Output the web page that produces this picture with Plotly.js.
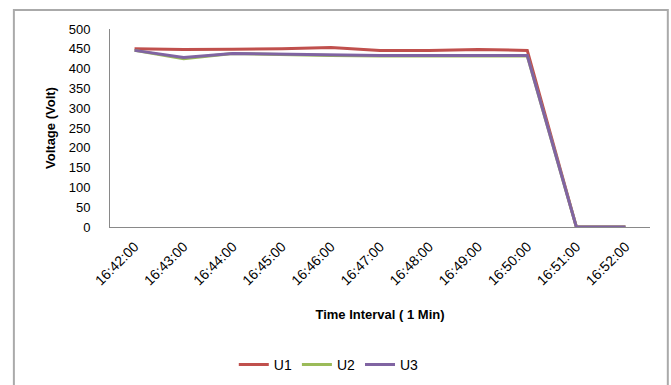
<!DOCTYPE html>
<html>
<head>
<meta charset="utf-8">
<script src="https://cdn.plot.ly/plotly-3.0.1.min.js"></script>
<style>
  html, body { margin: 0; padding: 0; background: #fff; }
  #chart { width: 671px; height: 385px; }
</style>
</head>
<body>
<div id="chart"></div>
<script>
// Sampling times (one-minute interval)
const times = ["16:42:00", "16:43:00", "16:44:00", "16:45:00", "16:46:00", "16:47:00",
               "16:48:00", "16:49:00", "16:50:00", "16:51:00", "16:52:00"];

// Phase voltages (Volt)
const u1 = [450, 448, 449, 450, 453, 446, 446, 448, 446, 0, 0];
const u2 = [446, 425, 438, 435, 433, 432, 432, 432, 432, 0, 0];
const u3 = [446, 428, 438, 436, 435, 433, 433, 433, 433, 0, 0];

const yTicks = [0, 50, 100, 150, 200, 250, 300, 350, 400, 450, 500];

const series = [
  { name: "U1", y: u1, color: "#C0504D" },
  { name: "U2", y: u2, color: "#9BBB59" },
  { name: "U3", y: u3, color: "#8064A2" }
];

const traces = series.map(s => ({
  type: "scatter",
  mode: "lines",
  name: s.name,
  x: times,
  y: s.y,
  line: { color: s.color, width: 3 }
}));

const fam = "Liberation Sans, Arial, sans-serif";

const layout = {
  width: 671,
  height: 385,
  margin: { l: 110, r: 21, t: 29, b: 158, autoexpand: false },
  paper_bgcolor: "#fff",
  plot_bgcolor: "#fff",
  font: { family: fam, size: 13, color: "#000" },
  showlegend: true,
  legend: {
    orientation: "h",
    xref: "container",
    x: 0.49, xanchor: "center",
    yref: "container",
    y: 0.052, yanchor: "middle",
    font: { family: fam, size: 14, color: "#000" },
    tracegroupgap: 0
  },
  xaxis: {
    type: "category",
    range: [-0.5, 10.5],
    automargin: false,
    tickangle: -45,
    showgrid: false,
    zeroline: false,
    showline: true,
    linecolor: "#898989",
    linewidth: 1,
    ticks: "",
    ticklabelstandoff: 5,
    tickfont: { family: fam, size: 14, color: "#000" },
    title: { text: "Time Interval ( 1 Min)", font: { family: fam, size: 13, color: "#000", weight: "bold" }, standoff: 22 }
  },
  yaxis: {
    range: [0, 500],
    automargin: false,
    tickvals: yTicks,
    ticktext: yTicks.map(String),
    showgrid: false,
    zeroline: false,
    showline: true,
    linecolor: "#898989",
    linewidth: 1,
    ticks: "",
    ticklabelstandoff: 16,
    tickfont: { family: fam, size: 13, color: "#000" },
    title: { text: "Voltage (Volt)", font: { family: fam, size: 13, color: "#000", weight: "bold" }, standoff: 10 }
  },
  shapes: [
    {
      type: "path", xref: "paper", yref: "paper",
      path: "M -0.178 -1 L -0.178 1.096 L 1.033 1.096 L 1.033 -1",
      line: { color: "#AAAAAA", width: 2 }
    }
  ]
};

Plotly.newPlot("chart", traces, layout, { staticPlot: true, displayModeBar: false });
</script>
</body>
</html>
